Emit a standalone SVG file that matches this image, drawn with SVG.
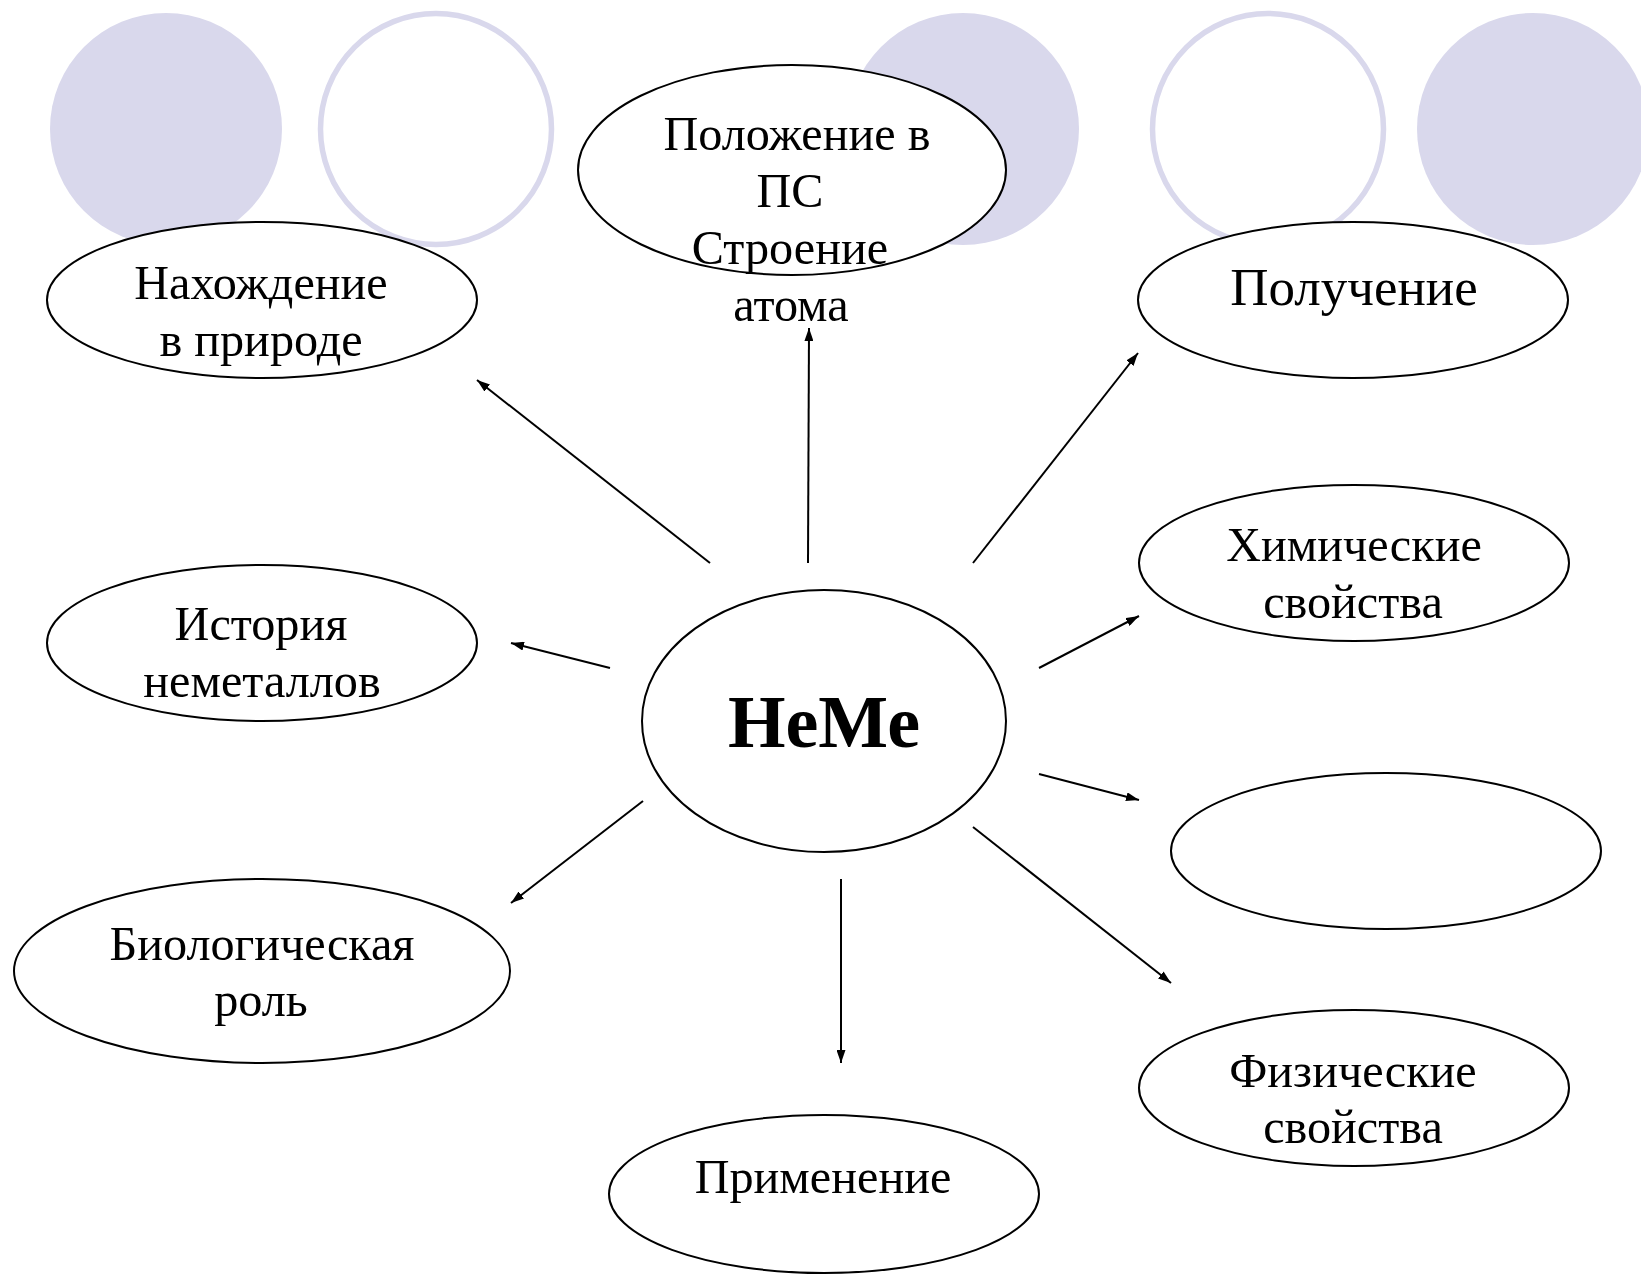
<svg xmlns="http://www.w3.org/2000/svg" width="1641" height="1274" viewBox="0 0 1641 1274">
<style>
.deco-fill{fill:#D9D8EC;stroke:none}
.deco-ring{fill:none;stroke:#D9D8EC;stroke-width:5.5}
.node{fill:#FFFFFF;stroke:#000000;stroke-width:2}
.lbl{font-family:"Liberation Serif","Times New Roman",serif;font-size:48.2px;fill:#000000;text-anchor:middle}
.big{font-size:53px}
.center{font-family:"Liberation Serif","Times New Roman",serif;font-size:74px;font-weight:bold;fill:#000000;text-anchor:middle}
.conn{stroke:#000000;stroke-width:2;fill:none;marker-end:url(#arrow)}
</style>
<defs>
<marker id="arrow" markerUnits="userSpaceOnUse" markerWidth="13" markerHeight="9" refX="13" refY="4.5" orient="auto">
<path d="M0,0 L13,4.5 L0,9 z" fill="#000000"/>
</marker>
</defs>
<rect x="0" y="0" width="1641" height="1274" fill="#FFFFFF"/>
<g id="decor">
<circle class="deco-fill" cx="166" cy="129" r="116"/>
<circle class="deco-ring" cx="436" cy="129" r="115.5"/>
<circle class="deco-fill" cx="963" cy="129" r="116"/>
<circle class="deco-ring" cx="1268" cy="129" r="115.5"/>
<circle class="deco-fill" cx="1533" cy="129" r="116"/>
</g>
<g id="connectors">
<line class="conn" x1="710" y1="563" x2="477" y2="380"/>
<line class="conn" x1="808" y1="563" x2="809" y2="328"/>
<line class="conn" x1="973" y1="563" x2="1138" y2="353"/>
<line class="conn" x1="610" y1="668" x2="511" y2="643"/>
<line class="conn" x1="1039" y1="668" x2="1139" y2="616"/>
<line class="conn" x1="1039" y1="774" x2="1139" y2="800"/>
<line class="conn" x1="643" y1="801" x2="511" y2="903"/>
<line class="conn" x1="973" y1="827" x2="1171" y2="983"/>
<line class="conn" x1="841" y1="879" x2="841" y2="1063"/>
</g>
<g id="node-position">
<ellipse class="node" cx="792" cy="170" rx="214" ry="105"/>
<text class="lbl" x="797" y="150">Положение в</text>
<text class="lbl" x="790" y="207">ПС</text>
<text class="lbl" x="790" y="264">Строение</text>
<text class="lbl" x="791" y="321">атома</text>
</g>
<g id="node-nature">
<ellipse class="node" cx="262" cy="300" rx="215" ry="78"/>
<text class="lbl" x="261" y="299">Нахождение</text>
<text class="lbl" x="261" y="356">в природе</text>
</g>
<g id="node-obtaining">
<ellipse class="node" cx="1353" cy="300" rx="215" ry="78"/>
<text class="lbl big" x="1354" y="305">Получение</text>
</g>
<g id="node-chemical">
<ellipse class="node" cx="1354" cy="563" rx="215" ry="78"/>
<text class="lbl" x="1354" y="561">Химические</text>
<text class="lbl" x="1353" y="618">свойства</text>
</g>
<g id="node-history">
<ellipse class="node" cx="262" cy="643" rx="215" ry="78"/>
<text class="lbl" x="261" y="640">История</text>
<text class="lbl" x="262" y="697">неметаллов</text>
</g>
<g id="node-center">
<ellipse class="node" cx="824" cy="721" rx="182" ry="131"/>
<text class="center" x="824" y="747">НеМе</text>
</g>
<g id="node-empty">
<ellipse class="node" cx="1386" cy="851" rx="215" ry="78"/>
</g>
<g id="node-biology">
<ellipse class="node" cx="262" cy="971" rx="248" ry="92"/>
<text class="lbl" x="262" y="960">Биологическая</text>
<text class="lbl" x="261" y="1016">роль</text>
</g>
<g id="node-physical">
<ellipse class="node" cx="1354" cy="1088" rx="215" ry="78"/>
<text class="lbl" x="1353" y="1087">Физические</text>
<text class="lbl" x="1353" y="1143">свойства</text>
</g>
<g id="node-application">
<ellipse class="node" cx="824" cy="1194" rx="215" ry="79"/>
<text class="lbl" x="823" y="1193">Применение</text>
</g>
</svg>
